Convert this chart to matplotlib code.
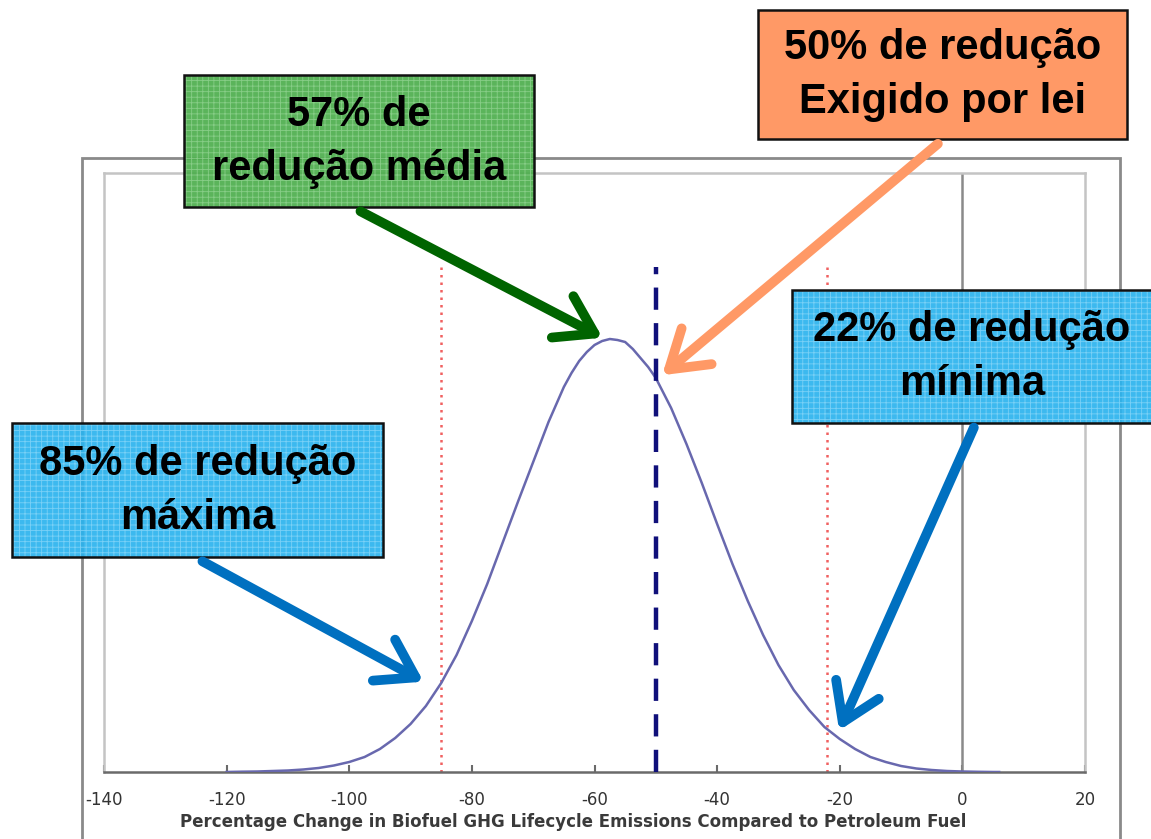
import matplotlib
matplotlib.use("Agg")
import matplotlib.pyplot as plt
from matplotlib.patches import Rectangle, FancyArrowPatch

# ---- data ----
x_change = [-120, -117.5, -115, -112.5, -110, -107.5, -105, -102.5, -100, -97.5,
            -95, -92.5, -90, -87.5, -85, -82.5, -80, -77.5, -75, -72.5,
            -70, -67.5, -65, -63.75, -62.5, -61.25, -60, -58.75, -57.5, -56.25,
            -55, -53.75, -52.5, -51.25, -50, -47.5,
            -45, -42.5, -40, -37.5, -35, -32.5, -30, -27.5, -25, -22.5,
            -20, -17.5, -15, -12.5, -10, -7.5, -5, -2.5, 0, 2.5, 5, 6]
y_freq = [0, 0.3, 0.5, 1, 1.5, 2.5, 4, 6.5, 10, 15,
          23, 34, 48, 66, 89, 117, 151, 188, 229, 270,
          310, 350, 385, 399, 411, 420, 427, 431, 433, 432,
          430, 423, 414, 405, 394, 364,
          328, 289, 248, 208, 171, 137, 107, 82, 62, 45,
          33, 23, 15, 10, 6, 3.5, 2, 1, 0.5, 0.2, 0, 0]
x_ticks = [-140, -120, -100, -80, -60, -40, -20, 0, 20]
min_reduction = -85
max_reduction = -22
required = -50
zero_line = 0
xlabel = "Percentage Change in Biofuel GHG Lifecycle Emissions Compared to Petroleum Fuel"

boxes = [
    # (text lines, px box [x0, y0, x1, y1], facecolor, hatchcolor, arrow start, arrow end, arrow color)
    (["57% de", "redução média"], [184, 75, 534, 207], "#4DAE4D", "#8CD08C",
     (358, 210), (605, 339), "#006400"),
    (["50% de redução", "Exigido por lei"], [758, 10, 1127, 139], "#FF9966", None,
     (940, 142), (660, 377), "#FF9966"),
    (["22% de redução", "mínima"], [792, 290, 1152, 423], "#2BB3EE", "#7FD3F7",
     (975, 425), (838, 733), "#0070C0"),
    (["85% de redução", "máxima"], [12, 423, 383, 557], "#2BB3EE", "#7FD3F7",
     (200, 560), (426, 683), "#0070C0"),
]

W, H = 1151, 839
fig = plt.figure(figsize=(W / 100, H / 100), dpi=100)
fig.patch.set_facecolor("white")

def fx(x):
    return x / W

def fy(y):
    return 1 - y / H

# outer frame
fig.add_artist(Rectangle((fx(82), fy(845)), fx(1120) - fx(82), fy(158) - fy(845),
                         transform=fig.transFigure, fill=False, edgecolor="#8a8a8a",
                         linewidth=2, zorder=0))

ax = fig.add_axes([fx(104), fy(772), fx(1085) - fx(104), fy(173) - fy(772)])
ax.set_xlim(-140, 20)
ax.set_ylim(0, 599)

ax.plot(x_change, y_freq, color="#6868AE", linewidth=1.8, zorder=3,
        solid_joinstyle="round")
ax.axvline(zero_line, color="#8a8a8a", linewidth=1.8, zorder=2)
ax.vlines([min_reduction, max_reduction], 0, 510, colors="#F06060",
          linestyles=(0, (1.0, 2.0)), linewidth=1.8, zorder=2)
ax.vlines([required], 0, 505, colors="#10107A", linestyles=(0, (5, 3)),
          linewidth=3.2, zorder=4)

ax.set_xticks(x_ticks)
ax.set_xticklabels([str(t) for t in x_ticks])
ax.set_yticks([])
for s in ["left", "top", "right"]:
    ax.spines[s].set_color("#c4c4c4")
    ax.spines[s].set_linewidth(1.8)
ax.spines["bottom"].set_color("#6a6a6a")
ax.spines["bottom"].set_linewidth(1.8)
ax.tick_params(axis="x", direction="in", length=5, width=1.5, color="#6a6a6a",
               labelsize=12, labelcolor="#333333", pad=14)
ax.set_xlabel(xlabel, fontsize=12, fontweight="bold", color="#3a3a3a")
ax.xaxis.set_label_coords(0.478, -0.068)

plt.rcParams["hatch.linewidth"] = 0.6

for lines, (x0, y0, x1, y1), fc, hc, a0, a1, ac in boxes:
    rect_xy = (fx(x0), fy(y1))
    rw, rh = fx(x1) - fx(x0), fy(y0) - fy(y1)
    if hc is not None:
        fig.add_artist(Rectangle(rect_xy, rw, rh, transform=fig.transFigure,
                                 facecolor=fc, edgecolor=hc, hatch="+++",
                                 linewidth=0, alpha=0.92, zorder=10))
    else:
        fig.add_artist(Rectangle(rect_xy, rw, rh, transform=fig.transFigure,
                                 facecolor=fc, edgecolor="none", zorder=10))
    fig.add_artist(Rectangle(rect_xy, rw, rh, transform=fig.transFigure,
                             fill=False, edgecolor="#111111", linewidth=1.8, zorder=11))
    cx = (x0 + x1) / 2
    cy = (y0 + y1) / 2
    for i, ln in enumerate(lines):
        yy = cy - 26 + 54 * i
        fig.text(fx(cx), fy(yy), ln, ha="center", va="center", fontsize=30,
                 fontweight="bold", family="Liberation Sans", color="black", zorder=12)
    arr = FancyArrowPatch((fx(a0[0]), fy(a0[1])), (fx(a1[0]), fy(a1[1])),
                          transform=fig.transFigure,
                          arrowstyle="->,head_length=0.65,head_width=0.42",
                          mutation_scale=40, linewidth=7, color=ac,
                          capstyle="round", joinstyle="round", zorder=13)
    fig.add_artist(arr)

fig.savefig("out.png", dpi=100)
